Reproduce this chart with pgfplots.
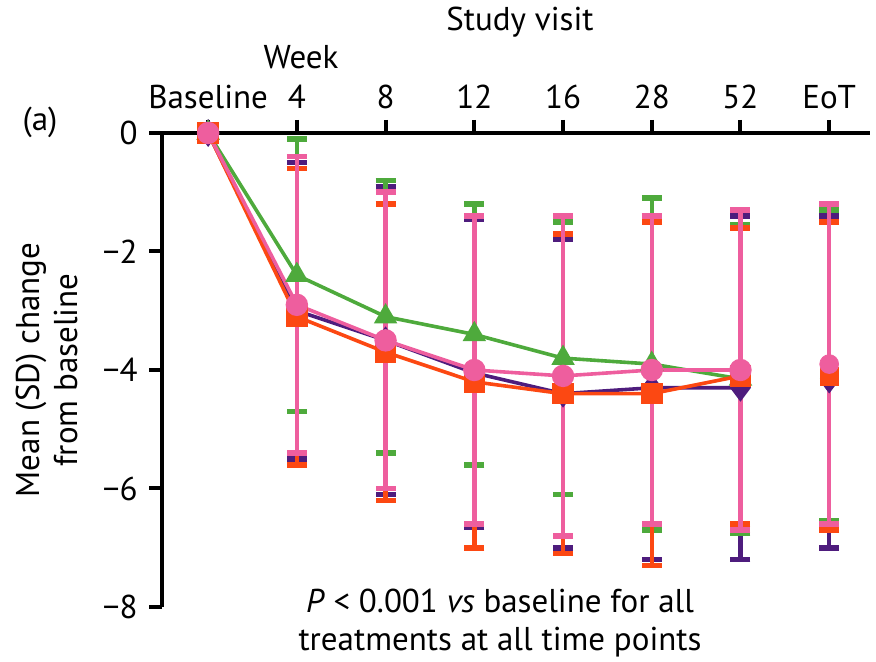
\documentclass[border=0pt]{standalone}
\usepackage{fontspec}
\setmainfont{PT Sans}
\usepackage{pgfplots}
\usepackage{pgfplotstable}
\pgfplotsset{compat=1.18}
\definecolor{cpur}{RGB}{78,28,125}
\definecolor{cgrn}{RGB}{78,170,60}
\definecolor{corg}{RGB}{252,72,18}
\definecolor{cpnk}{RGB}{238,94,158}
\pgfplotstableread{
x y ep em
0 0 0 0
1 -3.0 2.5 2.5
2 -3.5 2.6 2.6
3 -4.05 2.6 2.6
4 -4.4 2.6 2.6
5 -4.3 2.9 2.9
6 -4.3 2.9 2.9
7 -4.2 2.8 2.8
}\tpur
\pgfplotstableread{
x y ep em
0 0 0 0
1 -2.4 2.3 2.3
2 -3.1 2.3 2.3
3 -3.4 2.2 2.2
4 -3.8 2.3 2.3
5 -3.9 2.8 2.8
6 -4.15 2.6 2.6
7 -4.05 2.75 2.5
}\tgrn
\pgfplotstableread{
x y ep em
0 0 0 0
1 -3.1 2.5 2.5
2 -3.7 2.5 2.5
3 -4.2 2.8 2.8
4 -4.4 2.7 2.7
5 -4.4 2.9 2.9
6 -4.1 2.5 2.5
7 -4.1 2.6 2.6
}\torg
\pgfplotstableread{
x y ep em
0 0 0 0
1 -2.9 2.5 2.5
2 -3.5 2.5 2.5
3 -4.0 2.6 2.6
4 -4.1 2.7 2.7
5 -4.0 2.6 2.6
6 -4.0 2.7 2.7
7 -3.9 2.7 2.7
}\tpnk
\begin{document}
\begin{tikzpicture}
\fontsize{16.5}{19}\selectfont
\begin{axis}[
  at={(81pt,27.5pt)}, anchor=south west, scale only axis,
  width=354pt, height=237pt,
  xmin=-0.52, xmax=7.46, ymin=-8, ymax=0,
  axis x line=top, axis y line=left,
  axis line style={-, line width=2pt, black},
  clip=false,
  xtick={0,1,2,3,4,5,6,7},
  xticklabels={Baseline,4,8,12,16,28,52,EoT},
  ytick={-8,-6,-4,-2,0},
  yticklabels={−8,−6,−4,−2,0},
  tick align=outside, major tick length=6.5pt,
  tick style={line width=2pt, black},
  ticklabel style={font=\fontsize{16.5}{19}\selectfont},
  ylabel={Mean (SD) change\\from baseline},
  ylabel style={align=center, font=\fontsize{16.5}{19}\selectfont, at={(axis description cs:-0.163,0.5)}, anchor=center},
  unbounded coords=discard,
  ebar/.style={only marks, error bars/.cd, y dir=both, y explicit,
    error bar style={line width=2.2pt}, error mark options={rotate=90, line width=2.8pt, mark size=5pt}, /pgfplots/.cd},
]
% purple
\addplot[cpur, line width=1.8pt, mark=diamond*, mark size=5.5pt, restrict x to domain=0:6] table[x=x,y=y] {\tpur};
\addplot[cpur, mark=diamond*, mark size=5.5pt, restrict x to domain=1:7, ebar] table[x=x,y=y,y error plus=ep,y error minus=em] {\tpur};
% green
\addplot[cgrn, line width=1.8pt, mark=triangle*, mark size=5pt, restrict x to domain=0:6] table[x=x,y=y] {\tgrn};
\addplot[cgrn, mark=triangle*, mark size=5pt, restrict x to domain=1:7, ebar] table[x=x,y=y,y error plus=ep,y error minus=em] {\tgrn};
% orange
\addplot[corg, line width=1.8pt, mark=square*, mark size=4.5pt, restrict x to domain=0:6] table[x=x,y=y] {\torg};
\addplot[corg, mark=square*, mark size=4.5pt, restrict x to domain=1:7, ebar] table[x=x,y=y,y error plus=ep,y error minus=em] {\torg};
% pink
\addplot[cpnk, line width=1.8pt, mark=*, mark size=4.7pt, restrict x to domain=0:6] table[x=x,y=y] {\tpnk};
\addplot[cpnk, mark=*, mark size=4.7pt, restrict x to domain=1:7, ebar] table[x=x,y=y,y error plus=ep,y error minus=em] {\tpnk};
\end{axis}
\node at (260pt,320pt) {Study visit};
\node at (150.5pt,302.5pt) {Week};
\node at (20pt,270pt) {(a)};
\node[align=center] at (250pt,19.5pt) {\textit{P} < 0.001 \textit{vs} baseline for all\\treatments at all time points};
\pgfresetboundingbox
\path (0,0) rectangle (438pt,331pt);
\end{tikzpicture}
\end{document}
